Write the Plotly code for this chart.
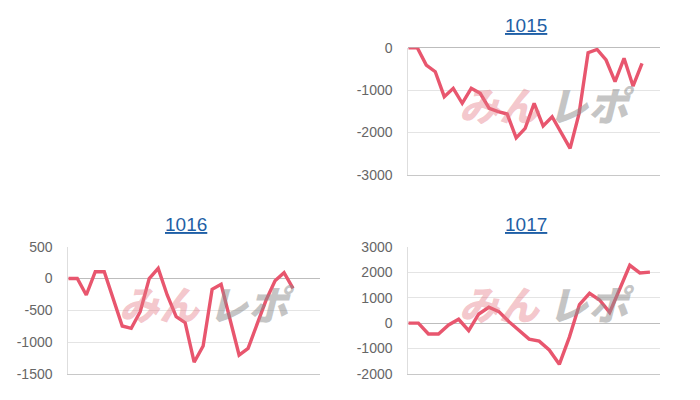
import plotly.graph_objects as go

# ---- data ----
titles = ["1015", "1016", "1017"]

days_1015 = list(range(1, 30))
vals_1015 = [0, 0, -410, -567, -1157, -960, -1313, -960, -1077, -1433, -1512, -1567,
             -2130, -1905, -1313, -1850, -1630, -2022, -2377, -1550, -118, -40, -291,
             -803, -250, -905, -370]

days_1016 = list(range(1, 30))
vals_1016 = [0, 0, -259, 107, 107, -330, -746, -782, -521, 0, 160, -259, -600, -694,
             -1315, -1060, -170, -91, -657, -1202, -1097, -704, -338, -34, 91, -154]

days_1017 = list(range(1, 27))
vals_1017 = [0, 0, -428, -428, -75, 150, -298, 357, 620, 450, 55, -270, -630, -710,
             -1057, -1620, -550, 730, 1170, 907, 420, 1340, 2270, 1970, 2000]

yticks_1015 = [0, -1000, -2000, -3000]
yticks_1016 = [500, 0, -500, -1000, -1500]
yticks_1017 = [3000, 2000, 1000, 0, -1000, -2000]

LINE = "#e8566e"
W, H = 700, 400
OFF = 8  # page body margin

def px_x(p):
    return (p - OFF) / W

def px_y(p):
    return 1 - (p - OFF) / H

panels = [
    # (title, days, vals, yticks, x0, x1, ytop, ybot)
    ("1015", days_1015, vals_1015, yticks_1015, 408.3, 660, 47.7, 174.7),
    ("1016", days_1016, vals_1016, yticks_1016, 68.3, 320, 246.7, 374.0),
    ("1017", days_1017, vals_1017, yticks_1017, 408.3, 660, 246.7, 374.0),
]

fig = go.Figure()
layout = dict(
    width=W, height=H, margin=dict(l=0, r=0, t=0, b=0, autoexpand=False),
    paper_bgcolor="white", plot_bgcolor="white", showlegend=False,
    font=dict(family="Liberation Sans, Arial, sans-serif"),
)
annotations = []

for k, (title, days, vals, yt, x0, x1, yt_px, yb_px) in enumerate(panels):
    n = k + 1
    xa = "x" if n == 1 else f"x{n}"
    ya = "y" if n == 1 else f"y{n}"
    fig.add_trace(go.Scatter(
        x=days[:len(vals)], y=vals, mode="lines", xaxis=xa, yaxis=ya,
        line=dict(color=LINE, width=3.4), hoverinfo="skip"))
    xkey = "xaxis" if n == 1 else f"xaxis{n}"
    ykey = "yaxis" if n == 1 else f"yaxis{n}"
    layout[xkey] = dict(
        domain=[px_x(x0), px_x(x1)], range=[days[0], days[-1]], anchor=ya,
        showticklabels=False, showgrid=False, zeroline=False, automargin=False,
        showline=True, linecolor="#c8c8c8", linewidth=1, ticks="")
    layout[ykey] = dict(
        domain=[px_y(yb_px), px_y(yt_px)], range=[min(yt), max(yt)], anchor=xa,
        tickvals=yt, ticktext=[str(v) for v in yt], automargin=False,
        tickfont=dict(size=14, color="#666666", family="Liberation Sans, Arial, sans-serif"),
        showgrid=True, gridcolor="#e4e4e4", gridwidth=1,
        zeroline=True, zerolinecolor="#bdbdbd", zerolinewidth=1,
        showline=True, linecolor="#dedede", linewidth=1,
        ticks="", ticklabelstandoff=12)
    cx = (x0 + x1) / 2
    annotations.append(dict(
        text=f"<u>{title}</u>", x=px_x(cx - 8), y=px_y(yt_px - 22),
        xref="paper", yref="paper", showarrow=False, xanchor="center", yanchor="middle",
        font=dict(size=19, color="#1f5fa6", family="Liberation Sans, Arial, sans-serif")))
    # watermark
    cy = (yt_px + yb_px) / 2 - 7
    annotations.append(dict(
        text="みん", x=px_x(cx + 9), y=px_y(cy), xref="paper", yref="paper",
        showarrow=False, xanchor="right", yanchor="middle",
        font=dict(size=40, color="rgba(228,120,132,0.42)", family="Noto Sans CJK JP",
                  weight=900, style="italic")))
    annotations.append(dict(
        text="レポ", x=px_x(cx + 12), y=px_y(cy), xref="paper", yref="paper",
        showarrow=False, xanchor="left", yanchor="middle",
        font=dict(size=40, color="rgba(140,140,140,0.5)", family="Noto Sans CJK JP",
                  weight=900, style="italic")))

layout["annotations"] = annotations
fig.update_layout(**layout)
fig.write_html("out.html")
